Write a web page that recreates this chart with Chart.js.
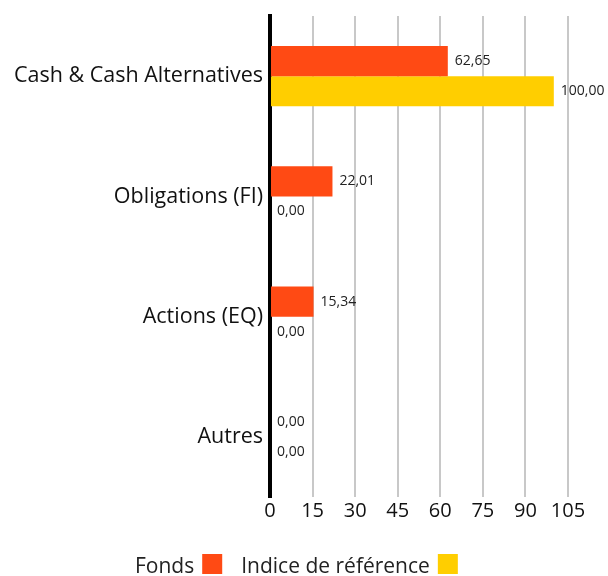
<!DOCTYPE html>
<html><head><meta charset="utf-8">
<script src="https://cdn.jsdelivr.net/npm/chart.js@4"></script>
<style>html,body{margin:0;padding:0;background:#fff;}#wrap{width:608px;height:576px;}</style>
</head><body><div id="wrap"><canvas id="c" width="608" height="576"></canvas></div>
<script>
const categories = ["Cash & Cash Alternatives", "Obligations (FI)", "Actions (EQ)", "Autres"];
const fondsValues = [62.65, 22.01, 15.34, 0.00];
const indiceValues = [100.00, 0.00, 0.00, 0.00];
const seriesNames = ["Fonds", "Indice de référence"];
const xTicks = [0, 15, 30, 45, 60, 75, 90, 105];
const colors = ["#FF4A14", "#FFCE00"];
const FONT = "'Open Sans'";

const labelPlugin = {
  id: 'valueLabels',
  afterDatasetsDraw(chart) {
    const ctx = chart.ctx;
    ctx.save();
    ctx.font = "14px " + FONT;
    ctx.fillStyle = "#222";
    ctx.textBaseline = "middle";
    ctx.textAlign = "left";
    chart.data.datasets.forEach((ds, i) => {
      chart.getDatasetMeta(i).data.forEach((el, j) => {
        const v = ds.data[j];
        ctx.fillText(v.toFixed(2).replace('.', ','), el.x + 7, el.y);
      });
    });
    ctx.restore();
  }
};

const legendPlugin = {
  id: 'customLegend',
  afterDraw(chart) {
    const ctx = chart.ctx;
    ctx.save();
    ctx.font = "21px " + FONT;
    ctx.textBaseline = "alphabetic";
    ctx.textAlign = "left";
    let x = 135;
    const base = 573;
    seriesNames.forEach((n, i) => {
      ctx.fillStyle = "#222";
      ctx.fillText(n, x, base);
      x += ctx.measureText(n).width + 8;
      ctx.fillStyle = colors[i];
      ctx.fillRect(x, 554, 20, 20);
      x += 20 + 19;
    });
    ctx.restore();
  }
};

new Chart(document.getElementById('c'), {
  type: 'bar',
  data: {
    labels: categories,
    datasets: [
      { label: seriesNames[0], data: fondsValues, backgroundColor: colors[0], categoryPercentage: 0.5, barPercentage: 1.0 },
      { label: seriesNames[1], data: indiceValues, backgroundColor: colors[1], categoryPercentage: 0.5, barPercentage: 1.0 }
    ]
  },
  options: {
    indexAxis: 'y',
    responsive: false,
    animation: false,
    layout: { padding: { top: 16, right: 40, bottom: 49, left: 0 } },
    plugins: { legend: { display: false }, tooltip: { enabled: false } },
    scales: {
      x: {
        min: 0, max: 105,
        afterBuildTicks(scale) { scale.ticks = xTicks.map(v => ({ value: v })); },
        afterFit(scale) { scale.height = 30; scale.paddingLeft = 0; scale.paddingRight = 0; },
        grid: { color: '#c8c8c8', lineWidth: 2, drawTicks: false },
        border: { display: false },
        ticks: { color: '#111', font: { family: FONT, size: 20 }, padding: 2, maxRotation: 0, autoSkip: false }
      },
      y: {
        afterFit(scale) { scale.width = 270; scale.paddingTop = 0; scale.paddingBottom = 0; },
        grid: { display: false, drawTicks: false },
        border: { display: true, color: '#000', width: 4 },
        ticks: { color: '#111', font: { family: FONT, size: 21.5 }, padding: 7 }
      }
    }
  },
  plugins: [labelPlugin, legendPlugin]
});
</script>
</body></html>
